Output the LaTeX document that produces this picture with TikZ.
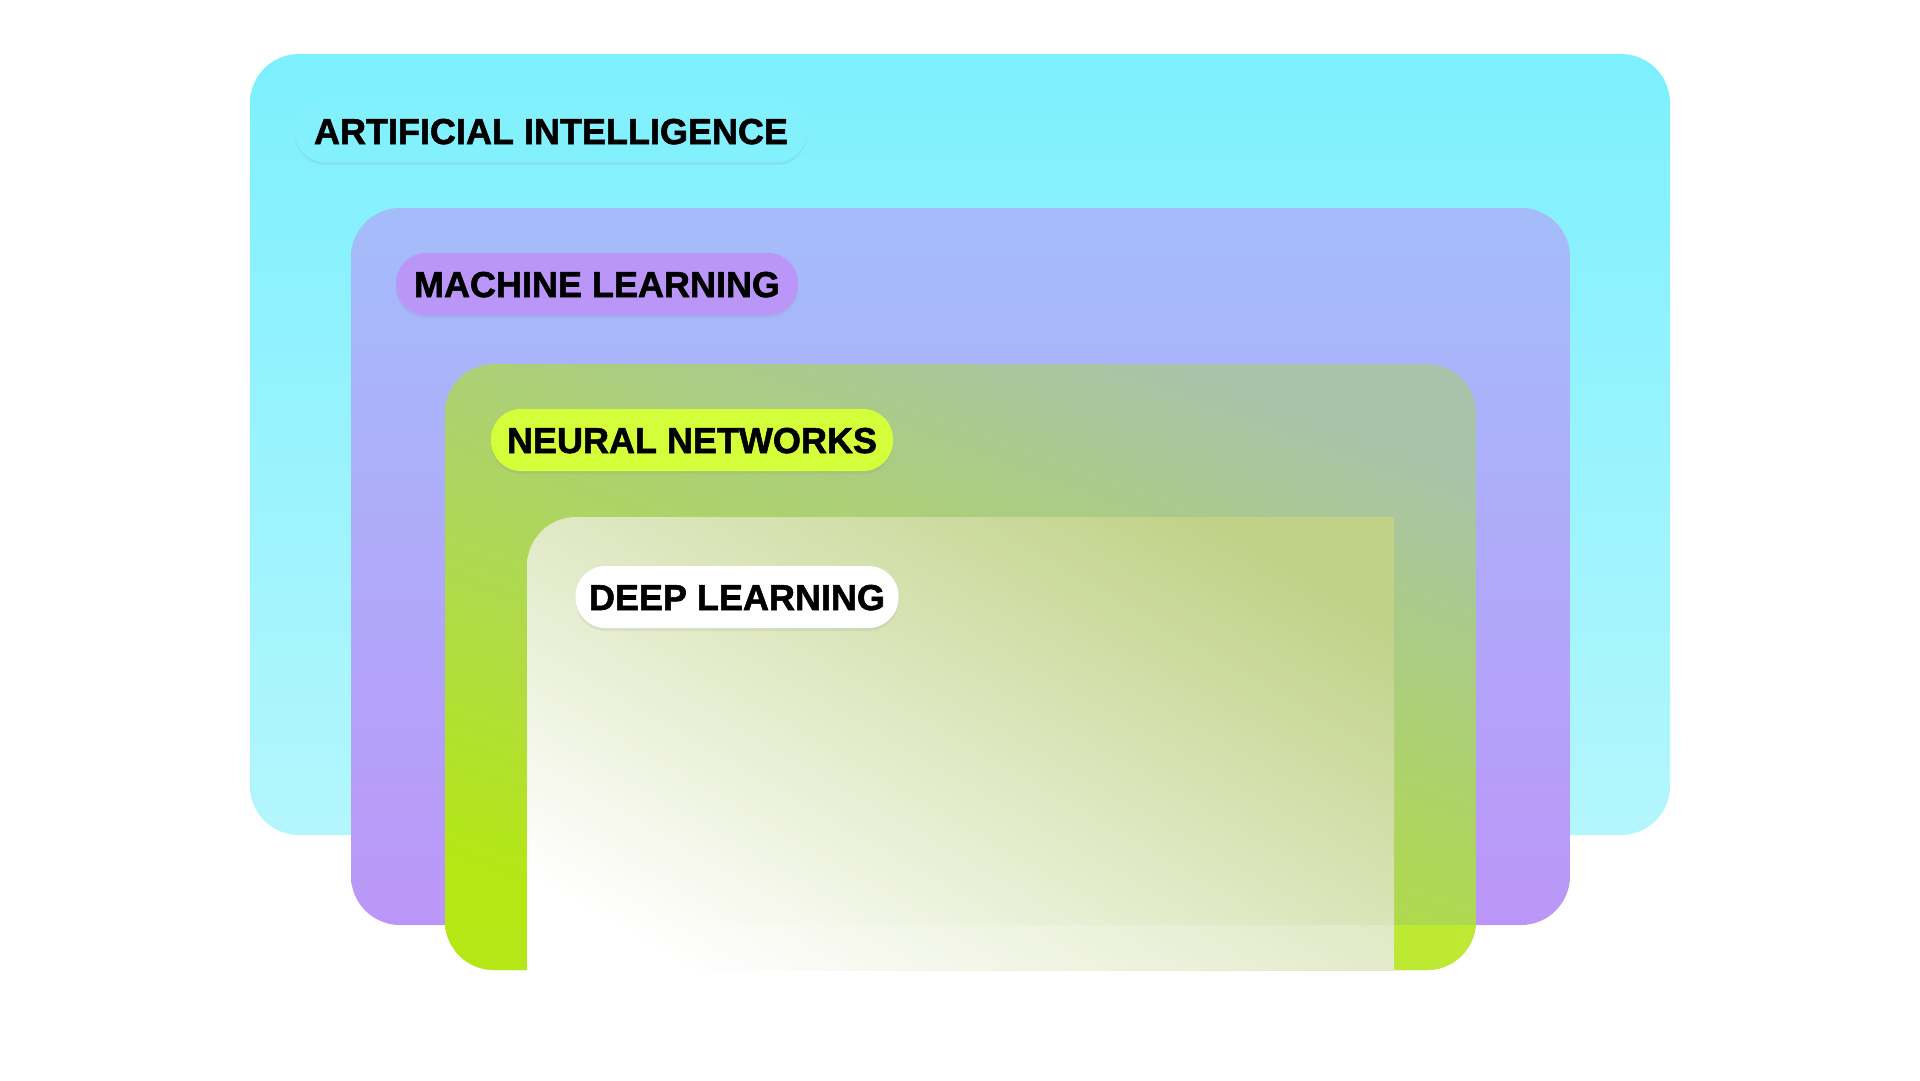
\documentclass[tikz,border=0pt]{standalone}
\usepackage{fontspec}
\newfontfamily\labelfont{Liberation Sans}[BoldFeatures={FakeBold=1.6}]
\usetikzlibrary{shadows}

\definecolor{aitop}{RGB}{124,240,253}
\definecolor{aibot}{RGB}{180,246,253}
\definecolor{mltop}{RGB}{164,189,250}
\definecolor{mlbot}{RGB}{187,150,248}
\definecolor{nntop}{RGB}{168,195,170}
\definecolor{nnmid}{RGB}{177,204,104}
\definecolor{nnbot}{RGB}{180,231,20}
\definecolor{nnbright}{RGB}{190,233,52}
\definecolor{dlgreen}{RGB}{192,210,136}
\definecolor{dlpale}{RGB}{222,236,178}
\definecolor{aipill}{RGB}{130,241,253}
\definecolor{mlpill}{RGB}{185,150,248}
\definecolor{nnpill}{RGB}{212,253,58}

\begin{document}
\begin{tikzpicture}[x=1pt, y=-1pt,
  pill/.style={rounded corners=30pt, minimum height=62pt, inner xsep=0pt, inner ysep=0pt,
    text height=26pt, text depth=0pt, font=\labelfont\bfseries\fontsize{36}{40}\selectfont,
    drop shadow={shadow xshift=0pt, shadow yshift=-3pt, opacity=0.12}},
  box/.style={rounded corners=49pt}]
  \useasboundingbox (0,0) rectangle (1920,1080);
  \fill[white] (0,0) rectangle (1920,1080);

  % intelligenza artificiale
  \shade[box, top color=aitop, bottom color=aibot] (250,54) rectangle (1670,835);

  % machine learning
  \shade[box, top color=mltop, bottom color=mlbot] (351,208) rectangle (1570,925);

  % reti neurali
  \begin{scope}
    \path[box, clip] (445,364) rectangle (1476,970);
    \shade[top color=nntop, middle color=nnmid, bottom color=nnbot, shading angle=-20]
      (445,364) rectangle (1476,970);
    \shade[left color=nnbot, right color=nnbright] (445,925) rectangle (1476,970);
  \end{scope}

  % deep learning
  \begin{scope}
    \clip (527,517) rectangle (1394,970);
    \shade[box, top color=dlgreen, middle color=dlpale, bottom color=white, shading angle=-30]
      (527,517) rectangle (1443,1019);
    \fill[white, opacity=0.2] (527,925) rectangle (1394,970);
  \end{scope}

  % etichette
  \node[pill, fill=aipill, minimum width=512pt] (ai) at (551,131) {ARTIFICIAL INTELLIGENCE};
  \node[pill, fill=mlpill, minimum width=402pt] (ml) at (597,284) {MACHINE LEARNING};
  \node[pill, fill=nnpill, minimum width=402pt] (nn) at (692,440) {NEURAL NETWORKS};
  \node[pill, fill=white, minimum width=323pt] (dl) at (737,597) {DEEP LEARNING};
\end{tikzpicture}
\end{document}
